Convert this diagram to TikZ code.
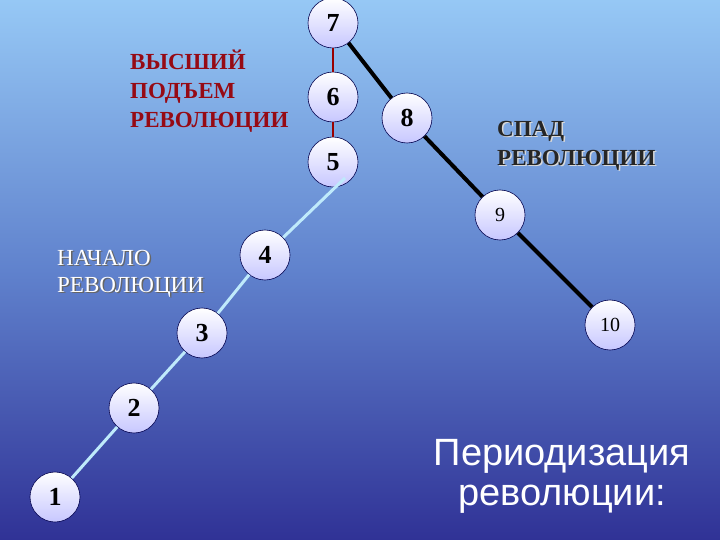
\documentclass[tikz,border=0pt]{standalone}
\usepackage{fontspec}
\setmainfont{Liberation Serif}
\newfontfamily\arialf{Liberation Sans}
\begin{document}
\begin{tikzpicture}[x=1pt,y=-1pt,
  num/.style={circle,draw=black!70!blue,line width=0.6pt,minimum size=50pt,inner sep=0pt,
    top color=white,bottom color=blue!22,font=\bfseries\fontsize{26}{26}\selectfont},
  smallnum/.style={num,font=\fontsize{20}{20}\selectfont},
  bl/.style={line width=3pt,draw=cyan!25!white},
  rd/.style={line width=2.5pt,draw=red!60!black},
  bk/.style={line width=4pt,draw=black},
  lbl/.style={align=left,anchor=north west,inner sep=0pt,font=\bfseries\fontsize{23}{29}\selectfont}]
\shade[top color={rgb,255:red,150;green,200;blue,245},bottom color={rgb,255:red,48;green,50;blue,150},middle color={rgb,255:red,96;green,130;blue,205}] (0,0) rectangle (720,540);
\useasboundingbox (0,0) rectangle (720,540);
\coordinate (e5) at (345,178);
\node[num] (n1) at (55,497) {1};
\node[num] (n2) at (134,408) {2};
\node[num] (n3) at (202,333) {3};
\node[num] (n4) at (265,255) {4};
\node[num] (n5) at (333,162) {5};
\node[num] (n6) at (333,97) {6};
\node[num] (n7) at (333,23) {7};
\node[num] (n8) at (407,118) {8};
\node[smallnum] (n9) at (500,215) {9};
\node[smallnum] (n10) at (610,325) {10};
\begin{scope}[on background layer/.style={}]
\end{scope}
\draw[bl] (n1) -- (n2) -- (n3) -- (n4) -- (e5);
\draw[rd] (n5) -- (n6) -- (n7);
\draw[bk] (n7) -- (n8) -- (n9) -- (n10);
\node[lbl,text={rgb,255:red,150;green,10;blue,20}] (t1) at (130,50) {ВЫСШИЙ\\ПОДЪЕМ\\РЕВОЛЮЦИИ};
\node[lbl,text=black!60,font=\fontsize{23}{27}\selectfont] (t2s) at (58.5,251.5) {НАЧАЛО\\РЕВОЛЮЦИИ};
\node[lbl,text=white,font=\fontsize{23}{27}\selectfont] (t2) at (57,250) {НАЧАЛО\\РЕВОЛЮЦИИ};
\node[lbl,text=white!70!gray] (t3s) at (498.5,122.5) {СПАД\\РЕВОЛЮЦИИ};
\node[lbl,text=black!85] (t3) at (497,121) {СПАД\\РЕВОЛЮЦИИ};
\node[align=center,text=white,font=\arialf\fontsize{38}{40}\selectfont] (t4) at (562,476) {Периодизация\\революции:};
\end{tikzpicture}
\end{document}
